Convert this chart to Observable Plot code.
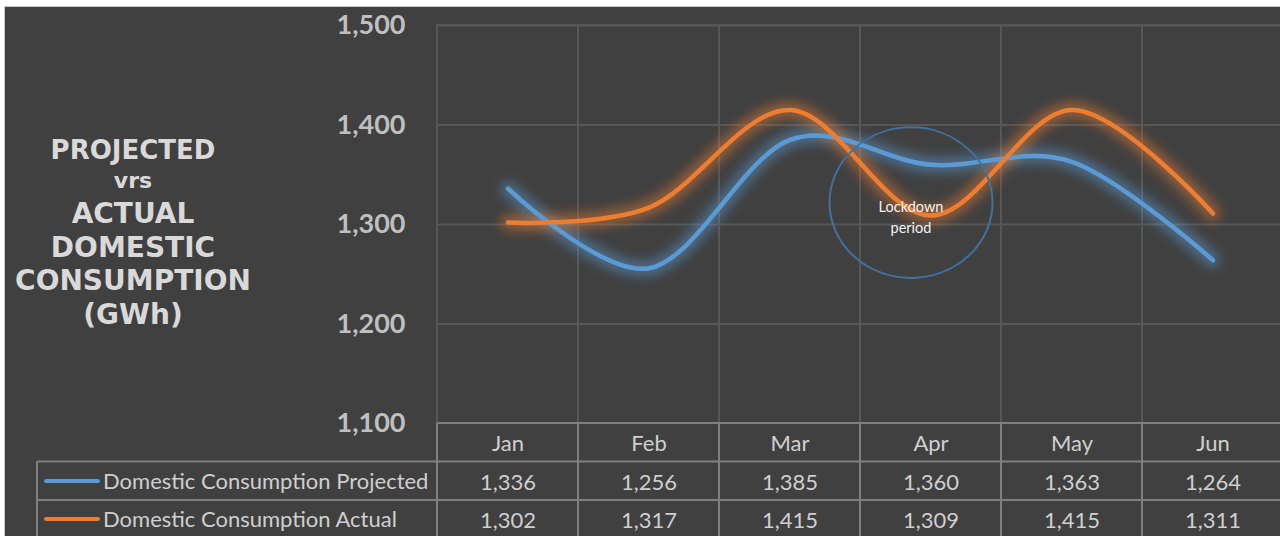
<!DOCTYPE html>
<html>
<head>
<meta charset="utf-8">
<script src="https://cdn.jsdelivr.net/npm/d3@7"></script>
<script src="https://cdn.jsdelivr.net/npm/@observablehq/plot@0.6"></script>
<style>
  html, body { margin: 0; padding: 0; background: #ffffff; overflow: hidden; }
  #wrap { position: relative; width: 1280px; height: 536px; overflow: hidden; }
  #bg { position: absolute; left: 4px; top: 6px; right: 0; bottom: 0; background: #404040; border-left: 1px solid #c8c8c8; border-top: 1px solid #c8c8c8; }
  #chart { position: absolute; left: 0; top: 0; }
  .tl { position: absolute; left: 0; width: 266px; text-align: center; height: 34px; line-height: 34px;
        font-family: "DejaVu Sans", Lato, sans-serif; font-weight: bold; color: #d9d9d9; font-size: 28px; white-space: nowrap; }
</style>
</head>
<body>
<div id="wrap">
  <div id="bg"></div>
  <div id="title"></div>
  <div id="chart"></div>
</div>
<script>
const months = ["Jan", "Feb", "Mar", "Apr", "May", "Jun"];
const projected = [1336, 1256, 1385, 1360, 1363, 1264];
const actual = [1302, 1317, 1415, 1309, 1415, 1311];
const yTicks = [1100, 1200, 1300, 1400, 1500];
const seriesNames = ["Domestic Consumption Projected", "Domestic Consumption Actual"];
const seriesColors = ["#5b9bd5", "#ed7d31"];
const lockdown = [{month: "Apr", value: 1322, label: "Lockdown\nperiod"}];
const titleLines = ["PROJECTED", "vrs", "ACTUAL", "DOMESTIC", "CONSUMPTION", "(GWh)"];

// title block
const titleSizes = [26, 22, 28, 28, 28, 28];
const titleCenters = [149, 180, 213, 247, 280, 314];
const tdiv = document.getElementById("title");
titleLines.forEach((t, i) => {
  const d = document.createElement("div");
  d.className = "tl";
  d.textContent = t;
  d.style.fontSize = titleSizes[i] + "px";
  d.style.top = (titleCenters[i] - 16.5) + "px";
  tdiv.appendChild(d);
});

const rows = [projected, actual].map((vals, s) =>
  months.map((m, i) => ({month: m, value: vals[i], series: seriesNames[s], row: s})));
const data = rows.flat();
const fmt = d3.format(",");
const FONT = "Lato, 'DejaVu Sans', sans-serif";
const TXT = "#cfcfcf";

const plot = Plot.plot({
  width: 1283, height: 536,
  marginTop: 25, marginBottom: 113, marginLeft: 437, marginRight: 0,
  x: {domain: months, padding: 0, axis: null},
  y: {domain: [1100, 1500], axis: null},
  color: {domain: seriesNames, range: seriesColors},
  style: {background: "transparent", maxWidth: "none", overflow: "visible", fontFamily: FONT},
  marks: [
    Plot.barY(months, {x: d => d, y1: 1100, y2: 1500, fill: "none", stroke: "#575757", strokeWidth: 2}),
    Plot.ruleY(yTicks.filter(t => t > 1100), {stroke: "#575757", strokeWidth: 2}),
    Plot.text(yTicks, {y: d => d, text: d => fmt(d), frameAnchor: "left", dx: -32, textAnchor: "end",
      lineAnchor: "middle", fontSize: 27, fontWeight: "bold", fill: "#bfbfbf", fontFamily: FONT}),
    Plot.line(data, {x: "month", y: "value", z: "series", stroke: "series", curve: "cardinal",
      strokeWidth: 15, strokeOpacity: 0.5}),
    Plot.line(data, {x: "month", y: "value", z: "series", stroke: "series", curve: "cardinal",
      strokeWidth: 4.5}),
    Plot.dot(lockdown, {x: "month", y: "value", r: 78, dx: -20, stroke: "#41719c", strokeWidth: 2, fill: "none"}),
    Plot.text(lockdown, {x: "month", y: "value", text: "label", dx: -20, dy: 13, fill: "#f2f2f2",
      fontSize: 14.5, lineHeight: 1.45, fontFamily: FONT}),
    Plot.text(months, {x: d => d, text: d => d, frameAnchor: "bottom", lineAnchor: "middle", dy: 20, fontSize: 22,
      fill: TXT, fontFamily: FONT}),
    Plot.text(rows[0], {x: "month", text: d => fmt(d.value), frameAnchor: "bottom", lineAnchor: "middle", dy: 59,
      fontSize: 22, fill: TXT, fontFamily: FONT}),
    Plot.text(rows[1], {x: "month", text: d => fmt(d.value), frameAnchor: "bottom", lineAnchor: "middle", dy: 97,
      fontSize: 22, fill: TXT, fontFamily: FONT})
  ]
});

document.getElementById("chart").appendChild(plot);

const svg = d3.select(plot);
// glow on the wide lines
svg.selectAll('g[aria-label="line"]').filter((d, i) => i === 0).style("filter", "blur(6px)");
// slightly elliptical lockdown outline
svg.selectAll('g[aria-label="dot"] circle').each(function () {
  const c = d3.select(this);
  const cx = +c.attr("cx"), cy = +c.attr("cy");
  c.attr("transform", `translate(${cx},${cy}) scale(1.045,0.965) translate(${-cx},${-cy})`)
   .attr("vector-effect", "non-scaling-stroke");
});

// data table grid and legend
const xs = plot.scale("x");
const bw = xs.bandwidth;
const x0 = xs.apply(months[0]);
const xEnd = xs.apply(months[months.length - 1]) + bw;
const yTop = 423, yHead = 461.5, yRow = 500, yBot = 539, xLeg = 37;
const g = svg.append("g").attr("stroke", "#7f7f7f").attr("stroke-width", 2);
[[x0, yTop, xEnd, yTop], [xLeg, yHead, xEnd, yHead], [xLeg, yRow, xEnd, yRow], [xLeg, yBot, xEnd, yBot],
 [xLeg, yHead, xLeg, yBot]].forEach(([a, b, c, d]) =>
  g.append("line").attr("x1", a).attr("y1", b).attr("x2", c).attr("y2", d));
months.forEach((m) => {
  const xx = xs.apply(m);
  g.append("line").attr("x1", xx).attr("x2", xx).attr("y1", yTop).attr("y2", yBot);
});
g.append("line").attr("x1", xEnd).attr("x2", xEnd).attr("y1", yTop).attr("y2", yBot);

const leg = svg.append("g");
seriesNames.forEach((name, i) => {
  const cy = i === 0 ? 481 : 519;
  leg.append("line").attr("x1", 46).attr("x2", 98).attr("y1", cy).attr("y2", cy)
    .attr("stroke", seriesColors[i]).attr("stroke-width", 4).attr("stroke-linecap", "round");
  leg.append("text").attr("x", 103).attr("y", cy).attr("dy", "0.35em").attr("fill", TXT)
    .attr("text-anchor", "start").attr("font-size", 22).attr("font-family", FONT).text(name);
});
</script>
</body>
</html>
